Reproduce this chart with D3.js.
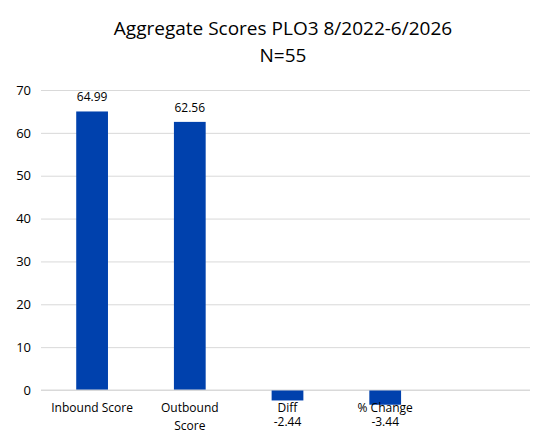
<!DOCTYPE html>
<html><head><meta charset="utf-8">
<script src="https://cdn.jsdelivr.net/npm/d3@7"></script>
<style>body{margin:0;background:#fff}</style></head>
<body><svg id="c" width="555" height="444"></svg>
<script>
const categories = [["Inbound Score"], ["Outbound", "Score"], ["Diff"], ["% Change"], [""]];
const values = [64.99, 62.56, -2.44, -3.44, null];
const labels = ["64.99", "62.56", "-2.44", "-3.44", ""];
const yTicks = [0, 10, 20, 30, 40, 50, 60, 70];

const svg = d3.select("#c");
const font = "'Open Sans', 'Noto Sans', sans-serif";
const x = d3.scaleBand().domain(d3.range(categories.length)).range([43, 532]).paddingInner(0.675).paddingOuter(0.34);
const y = d3.scaleLinear().domain([0, 70]).range([390, 90]);

svg.append("text").attr("x", 283).attr("y", 35).attr("text-anchor", "middle")
  .attr("font-family", font).attr("font-size", 19).attr("fill", "#000").text("Aggregate Scores PLO3 8/2022-6/2026");
svg.append("text").attr("x", 283).attr("y", 62).attr("text-anchor", "middle")
  .attr("font-family", font).attr("font-size", 19).attr("fill", "#000").text("N=55");

const yAxis = svg.append("g").attr("transform", "translate(41,0)")
  .call(d3.axisLeft(y).tickValues(yTicks).tickSize(-489).tickPadding(10));
yAxis.select(".domain").remove();
yAxis.selectAll(".tick line").attr("stroke", "#d9d9d9");
yAxis.selectAll(".tick text").attr("font-family", font).attr("font-size", 13).attr("fill", "#000");

const data = values.map((v, i) => ({i, v})).filter(d => d.v !== null);
svg.selectAll("rect.bar").data(data).join("rect")
  .attr("x", d => x(d.i)).attr("width", x.bandwidth())
  .attr("y", d => y(Math.max(0, d.v))).attr("height", d => Math.abs(y(d.v) - y(0)))
  .attr("fill", "#0041ad");

svg.append("line").attr("x1", 41).attr("x2", 530).attr("y1", y(0)).attr("y2", y(0)).attr("stroke", "#d9d9d9");

svg.selectAll("text.val").data(data).join("text")
  .attr("x", d => x(d.i) + x.bandwidth() / 2)
  .attr("y", d => d.v >= 0 ? y(d.v) - 10 : 426)
  .attr("text-anchor", "middle").attr("font-family", font).attr("font-size", 12).attr("fill", "#000")
  .text(d => labels[d.i]);

categories.forEach((lines, i) => {
  const t = svg.append("text").attr("x", x(i) + x.bandwidth() / 2).attr("y", 412)
    .attr("text-anchor", "middle").attr("font-family", font).attr("font-size", 12).attr("fill", "#000");
  lines.forEach((l, k) => t.append("tspan").attr("x", x(i) + x.bandwidth() / 2).attr("dy", k ? 18 : 0).text(l));
});
</script></body></html>
